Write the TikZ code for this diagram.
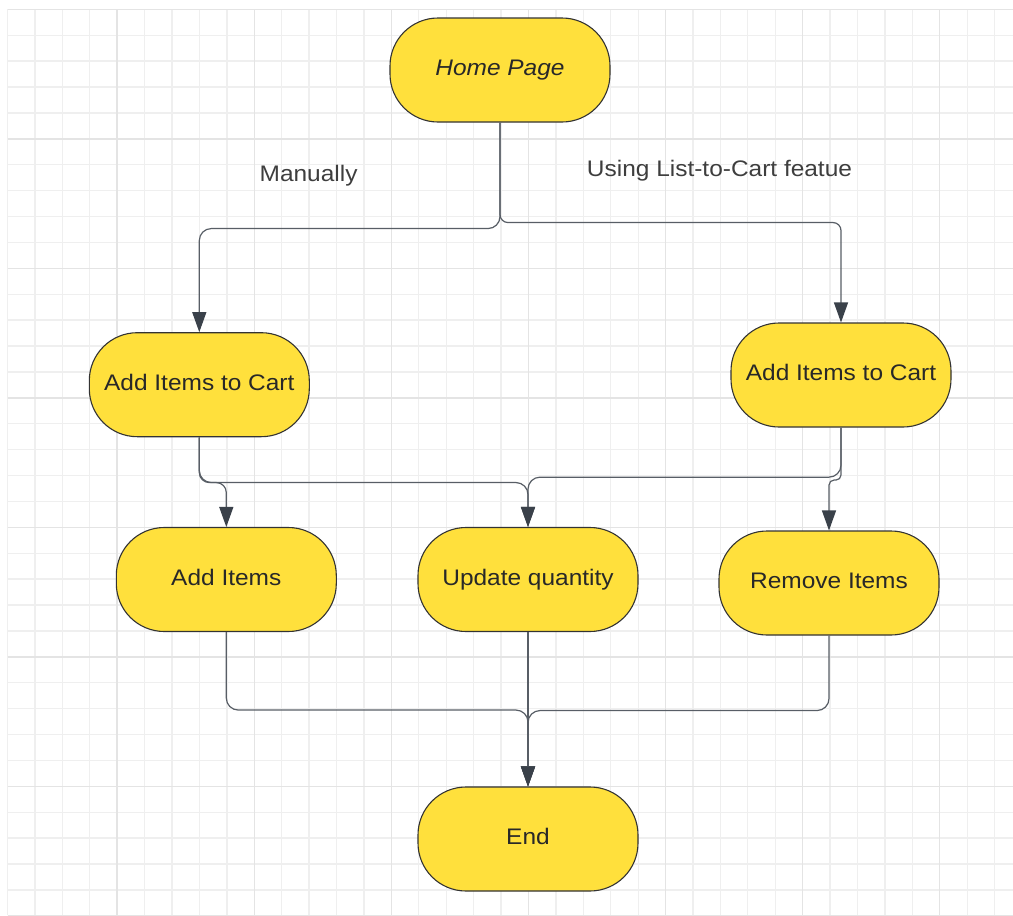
\documentclass[tikz,border=0pt]{standalone}
\usepackage{fontspec}
\setmainfont{Liberation Sans}[FakeStretch=1.087]
\usetikzlibrary{arrows.meta}

\definecolor{flowfill}{RGB}{255,224,60}
\definecolor{flowedge}{RGB}{51,51,51}
\definecolor{wirecol}{RGB}{88,94,102}
\definecolor{tipcol}{RGB}{58,65,74}
\definecolor{gridminor}{RGB}{239,239,239}
\definecolor{gridmajor}{RGB}{228,228,228}
\definecolor{inktext}{RGB}{40,40,40}
\definecolor{labeltext}{RGB}{62,62,62}

\tikzset{
  flowbox/.style={draw=flowedge, line width=1.1pt, fill=flowfill,
    rounded corners=48pt, minimum width=220pt, minimum height=104pt,
    inner sep=0pt, text=inktext, font=\fontsize{22.5}{27}\selectfont,
    text height=16.1pt, text depth=5pt},
  edgelabel/.style={anchor=base, inner sep=0pt, text=labeltext,
    font=\fontsize{22.5}{27}\selectfont},
  wire/.style={draw=wirecol, line width=1.2pt, rounded corners=12pt},
  arrowed/.style={-{Triangle[length=20pt,width=14pt,color=tipcol]}},
  minorline/.style={draw=gridminor, line width=1.3pt},
  majorline/.style={draw=gridmajor, line width=1.4pt}
}

\begin{document}
\begin{tikzpicture}[x=1pt, y=-1pt]
  \useasboundingbox[fill=white] (0,0) rectangle (1013,916);

  % background grid
  \foreach \k in {0,...,36}
    \draw[minorline] ({7.5+27.42*\k},9.3) -- ({7.5+27.42*\k},915);
  \foreach \k in {0,...,35}
    \draw[minorline] (7.5,{9.3+25.9*\k}) -- (1013,{9.3+25.9*\k});
  \foreach \k in {4,9,...,34}
    \draw[majorline] ({7.5+27.42*\k},9.3) -- ({7.5+27.42*\k},915);
  \foreach \k in {0,5,...,35}
    \draw[majorline] (7.5,{9.3+25.9*\k}) -- (1013,{9.3+25.9*\k});

  % steps
  \node[flowbox] (home)  at (500,70)    {\itshape Home Page};
  \node[flowbox] (cartL) at (199.3,384.7) {Add Items to Cart};
  \node[flowbox] (cartR) at (841,375)   {Add Items to Cart};
  \node[flowbox] (addI)  at (226.3,579.5) {Add Items};
  \node[flowbox] (upd)   at (528,579.5) {Update quantity};
  \node[flowbox] (rem)   at (829,583)   {Remove Items};
  \node[flowbox] (endn)  at (528,839)   {End};

  % branch labels
  \node[edgelabel] (lblman) at (308.6,181) {Manually};
  \node[edgelabel] (lbluse) at (719.5,176) {Using List-to-Cart featue};

  % home page splits into the two ways of filling the cart
  \draw[wire,arrowed] (home.south) -- ++(0,106) -| (cartL.north);
  \draw[wire,arrowed,rounded corners=8pt] (home.south) -- ++(0,100) -| (cartR.north);

  % cart actions
  \draw[wire,arrowed] (cartL.south) -- ++(0,45.3) -| (upd.north);
  \draw[wire,arrowed,rounded corners=10pt] (cartL.south) -- ++(0,45.3) -| (addI.north);
  \draw[wire,arrowed] (cartR.south) -- ++(0,49.6) -| (upd.north);
  \draw[wire,arrowed,rounded corners=5pt] (cartR.south) -- ++(0,52.5) -| (rem.north);

  % everything ends at End
  \draw[wire,arrowed] (addI.south) -- ++(0,78) -| (endn.north);
  \draw[wire,arrowed] (rem.south) -- ++(0,75) -| (endn.north);
  \draw[wire,arrowed] (upd.south) -- (endn.north);
\end{tikzpicture}
\end{document}
